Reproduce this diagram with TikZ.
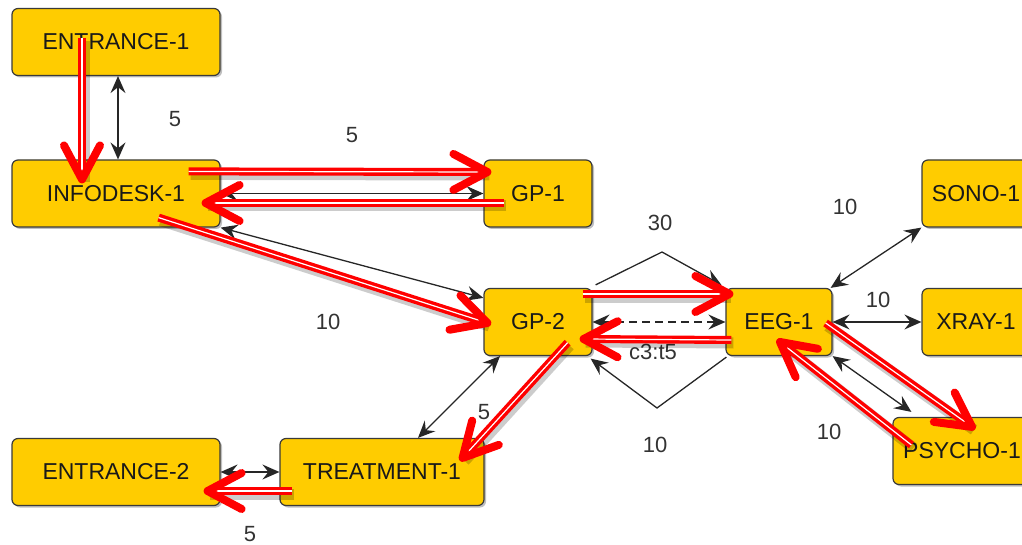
\documentclass[tikz,border=0pt]{standalone}
\usepackage{fontspec}
\setmainfont{Liberation Sans}
\usetikzlibrary{arrows.meta,decorations.markings,shadows}
\definecolor{boxfill}{HTML}{FFCC00}
\definecolor{boxline}{HTML}{3A3A3A}
\definecolor{labelgray}{HTML}{333333}
\definecolor{flowred}{HTML}{FF0000}

\begin{document}
\begin{tikzpicture}[x=1pt,y=-1pt,
  station/.style={draw=boxline, line width=1.2pt, fill=boxfill, rounded corners=6pt,
    minimum height=67pt, inner sep=0pt, font=\fontsize{23}{27}\selectfont, text=black!90,
    drop shadow={shadow xshift=2pt, shadow yshift=-2pt, opacity=0.25, fill=black}},
  link/.style={draw=black!85, line width=1.3pt,
    {Stealth[length=17pt,width=15pt,inset=6pt]}-{Stealth[length=17pt,width=15pt,inset=6pt]}},
  onelink/.style={draw=black!85, line width=1.3pt, -{Stealth[length=17pt,width=15pt,inset=6pt]}},
  weight/.style={font=\fontsize{22}{26}\selectfont, text=labelgray, inner sep=0pt},
  flow/.style={draw=flowred, line width=8pt,
    preaction={draw=black, opacity=0.2, line width=11pt,
      transform canvas={shift={(2pt,-3pt)}}},
    postaction={draw=white, line width=1.2pt},
    postaction={decorate, decoration={markings, mark=at position 1 with {
      \draw[flowred, line width=8pt, line cap=round, line join=round]
        (-34pt,18pt) -- (0pt,0pt) -- (-34pt,-18pt);}}}},
]
\clip (0,0) rectangle (1022,545);
\useasboundingbox (0,0) rectangle (1022,545);

% stations
\node[station, minimum width=208pt] (ent1)   at (116,42)    {ENTRANCE-1};
\node[station, minimum width=208pt] (info)   at (116,193.5) {INFODESK-1};
\node[station, minimum width=108pt] (gp1)    at (538,193.5) {GP-1};
\node[station, minimum width=108pt] (gp2)    at (538,322)   {GP-2};
\node[station, minimum width=106pt] (eeg)    at (779,322)   {EEG-1};
\node[station, minimum width=108pt] (sono)   at (976,193.5) {SONO-1};
\node[station, minimum width=108pt] (xray)   at (976,322)   {XRAY-1};
\node[station, minimum width=138pt] (psycho) at (962,451)   {PSYCHO-1};
\node[station, minimum width=208pt] (ent2)   at (116,472)   {ENTRANCE-2};
\node[station, minimum width=204pt] (treat)  at (382,472)   {TREATMENT-1};

% bends of the two one-way links between GP-2 and EEG-1
\coordinate (topbend) at (662,252);
\coordinate (lowbend) at (657,408);

% links with their weights
\draw[link] ([xshift=2pt]ent1.south) -- ([xshift=2pt]info.north);
\draw[link] (info.east) -- (gp1.west);
\draw[link] (info.south east) -- ([yshift=-10pt]gp2.north west);
\draw[link, dash pattern=on 8pt off 5pt] (gp2.east) -- (eeg.west);
\draw[onelink] ([xshift=3pt,yshift=3pt]gp2.north east) -- (topbend) -- ([xshift=-4pt,yshift=3pt]eeg.north west);
\draw[onelink] ([xshift=1pt,yshift=-1pt]eeg.south west) -- (lowbend) -- ([xshift=-2pt,yshift=-2.5pt]gp2.south east);
\draw[link] ([xshift=-2pt]eeg.north east) -- (sono.south west);
\draw[link] (eeg.east) -- (xray.west);
\draw[link] (eeg.south east) -- ([xshift=19pt,yshift=5pt]psycho.north west);
\draw[link] ([xshift=-38pt]gp2.south) -- ([xshift=36pt]treat.north);
\draw[link] (ent2.east) -- (treat.west);

\node[weight] (w1)  at (175,119) {5};
\node[weight] (w2)  at (352,135) {5};
\node[weight] (w3)  at (328,322) {10};
\node[weight] (w4)  at (660,223) {30};
\node[weight] (w5)  at (653,352) {c3:t5};
\node[weight] (w6)  at (655,445) {10};
\node[weight] (w7)  at (845,207) {10};
\node[weight] (w8)  at (878,300) {10};
\node[weight] (w9)  at (829,432) {10};
\node[weight] (w10) at (484,412) {5};
\node[weight] (w11) at (250,534) {5};

% patient route
\draw[flow] ([xshift=-34pt,yshift=4pt]ent1.center) -- ([xshift=-34pt,yshift=-20pt]info.north);
\draw[flow] ([xshift=-32pt,yshift=-12pt]info.north east) -- ([xshift=4pt,yshift=21.5pt]gp1.west);
\draw[flow] ([xshift=21pt,yshift=-9.5pt]gp1.west) -- ([xshift=-15pt,yshift=-9.5pt]info.east);
\draw[flow] ([xshift=-62pt,yshift=10pt]info.south east) -- ([xshift=4pt,yshift=-1pt]gp2.west);
\draw[flow] ([xshift=-10pt,yshift=28pt]gp2.east) -- ([xshift=4pt,yshift=28pt]eeg.west);
\draw[flow] ([xshift=6pt,yshift=-18pt]eeg.west) -- ([xshift=-9pt,yshift=-17pt]gp2.east);
\draw[flow] ([xshift=-25pt,yshift=13.5pt]gp2.south east) -- ([xshift=-22pt,yshift=-20pt]treat.north east);
\draw[flow] ([xshift=13pt,yshift=-19pt]treat.west) -- ([xshift=-13pt,yshift=-19pt]ent2.east);
\draw[flow] ([xshift=-7pt,yshift=-1pt]eeg.east) -- ([xshift=10pt,yshift=-10pt]psycho.north);
\draw[flow] ([xshift=19pt,yshift=6pt]psycho.west) -- ([xshift=1pt,yshift=-20pt]eeg.center);
\end{tikzpicture}
\end{document}
